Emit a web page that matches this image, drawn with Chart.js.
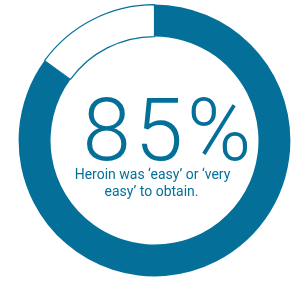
<!DOCTYPE html>
<html>
<head>
<meta charset="utf-8">
<script src="https://cdn.jsdelivr.net/npm/chart.js@4"></script>
<style>
  html, body { margin: 0; padding: 0; background: #fff; }
  #wrap { position: relative; width: 298px; height: 284px; }
</style>
</head>
<body>
<div id="wrap"><canvas id="myChart" width="298" height="284"></canvas></div>
<script>
// data
const labels = ['Easy or very easy', 'Other'];
const shares = [85, 15];
const bigLabel = '85%';
const captionLines = ['Heroin was \u2018easy\u2019 or \u2018very', 'easy\u2019 to obtain.'];

const teal = '#04709a';

// draws the big number and caption in the middle of the ring
const centerText = {
  id: 'centerText',
  afterDraw(chart) {
    const ctx = chart.ctx;
    const arc = chart.getDatasetMeta(0).data[0];
    const cx = arc.x, cy = arc.y;
    ctx.save();
    ctx.fillStyle = teal;
    ctx.textBaseline = 'alphabetic';
    ctx.textAlign = 'left';
    ctx.font = '300 87px Roboto';
    ctx.letterSpacing = '4px';
    ctx.fillText(bigLabel, cx - 72, cy + 19.5);
    ctx.letterSpacing = '0px';
    ctx.textAlign = 'center';
    ctx.font = '14px Roboto';
    ctx.fillText(captionLines[0], cx - 2, cy + 38.5);
    ctx.fillText(captionLines[1], cx - 3, cy + 55.5);
    ctx.restore();
  }
};

const ctx = document.getElementById('myChart').getContext('2d');
new Chart(ctx, {
  type: 'doughnut',
  data: {
    labels: labels,
    datasets: [{
      data: shares,
      backgroundColor: [teal, '#ffffff'],
      borderColor: [teal, teal],
      borderWidth: [0, 1.2]
    }]
  },
  options: {
    responsive: false,
    animation: false,
    cutout: '76.5%',
    layout: { padding: { left: 18, right: 7, top: 4, bottom: 7 } },
    plugins: {
      legend: { display: false },
      tooltip: { enabled: false }
    }
  },
  plugins: [centerText]
});
</script>
</body>
</html>
